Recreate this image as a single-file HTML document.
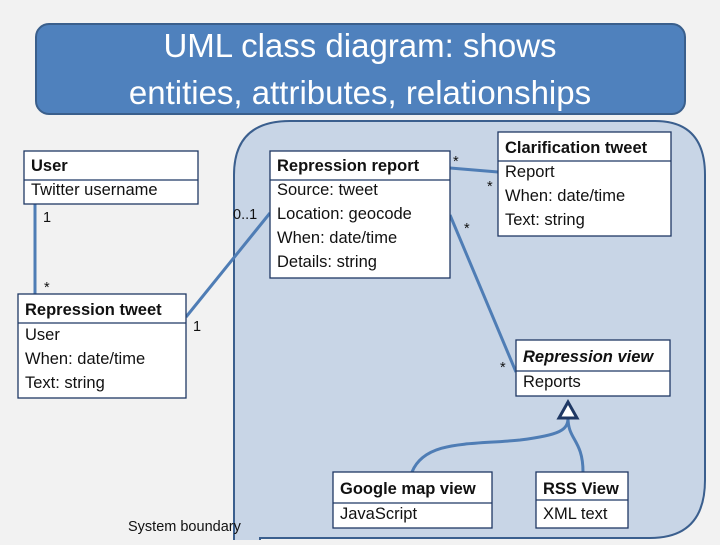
<!DOCTYPE html>
<html><head><style>
body{margin:0;width:720px;height:540px;overflow:hidden;background:#f2f2f2;font-family:"Liberation Sans",sans-serif;}
</style></head><body>
<svg width="720" height="540" xmlns="http://www.w3.org/2000/svg" font-family="Liberation Sans, sans-serif">
<rect x="0" y="0" width="720" height="540" fill="#f2f2f2"/>
<path d="M234 545 L234 175 Q234 121 290 121 L655 121 Q705 121 705 175 L705 480 Q705 538 650 538 L260 538 L260 545 Z" fill="#c8d5e6" stroke="#3b5f8e" stroke-width="2"/>
<rect x="36" y="24" width="649" height="90" rx="13" fill="#4f81bd" stroke="#3a5f8c" stroke-width="2"/>
<text x="360" y="57" font-size="33" fill="#fff" text-anchor="middle">UML class diagram: shows</text>
<text x="360" y="104" font-size="33" fill="#fff" text-anchor="middle">entities, attributes, relationships</text>
<g stroke="#4f7db5" stroke-width="3" fill="none">
<line x1="35" y1="204" x2="35" y2="294"/>
<line x1="186" y1="317" x2="270" y2="213"/>
<line x1="450" y1="168" x2="498" y2="172"/>
<line x1="450" y1="215" x2="516" y2="372"/>
<path d="M412 472 C425 440 470 445 520 440 C560 435 568 430 568 418"/>
<path d="M568 418 C568 440 583 440 583 472"/>
</g>
<polygon points="568,402 559,418 577,418" fill="#fff" stroke="#1f3864" stroke-width="3"/>
<g stroke="#1f3864" stroke-width="1.3" fill="#fff">
<rect x="24" y="151" width="174" height="53"/><line x1="24" y1="180" x2="198" y2="180"/>
<rect x="18" y="294" width="168" height="104"/><line x1="18" y1="323" x2="186" y2="323"/>
<rect x="270" y="151" width="180" height="127"/><line x1="270" y1="180" x2="450" y2="180"/>
<rect x="498" y="132" width="173" height="104"/><line x1="498" y1="161" x2="671" y2="161"/>
<rect x="516" y="340" width="154" height="56"/><line x1="516" y1="371" x2="670" y2="371"/>
<rect x="333" y="472" width="159" height="56"/><line x1="333" y1="503" x2="492" y2="503"/>
<rect x="536" y="472" width="92" height="56"/><line x1="536" y1="500" x2="628" y2="500"/>
</g>
<g font-size="16.5" fill="#111">
<text x="31" y="171" font-weight="bold">User</text>
<text x="31" y="195">Twitter username</text>
<text x="25" y="315" font-weight="bold">Repression tweet</text>
<text x="25" y="340">User</text><text x="25" y="364">When: date/time</text><text x="25" y="388">Text: string</text>
<text x="277" y="171" font-weight="bold">Repression report</text>
<text x="277" y="195">Source: tweet</text><text x="277" y="219">Location: geocode</text><text x="277" y="243">When: date/time</text><text x="277" y="267">Details: string</text>
<text x="505" y="153" font-weight="bold">Clarification tweet</text>
<text x="505" y="177">Report</text><text x="505" y="201">When: date/time</text><text x="505" y="225">Text: string</text>
<text x="523" y="362" font-weight="bold" font-style="italic">Repression view</text>
<text x="523" y="387">Reports</text>
<text x="340" y="494" font-weight="bold">Google map view</text>
<text x="340" y="519">JavaScript</text>
<text x="543" y="494" font-weight="bold">RSS View</text>
<text x="543" y="519">XML text</text>
</g>
<g font-size="14.5" fill="#111">
<text x="43" y="222">1</text><text x="44" y="292">*</text>
<text x="193" y="331">1</text><text x="233" y="219">0..1</text>
<text x="453" y="166">*</text><text x="487" y="191">*</text>
<text x="464" y="233">*</text><text x="500" y="372">*</text>
<text x="128" y="531">System boundary</text>
</g>
</svg>
</body></html>
